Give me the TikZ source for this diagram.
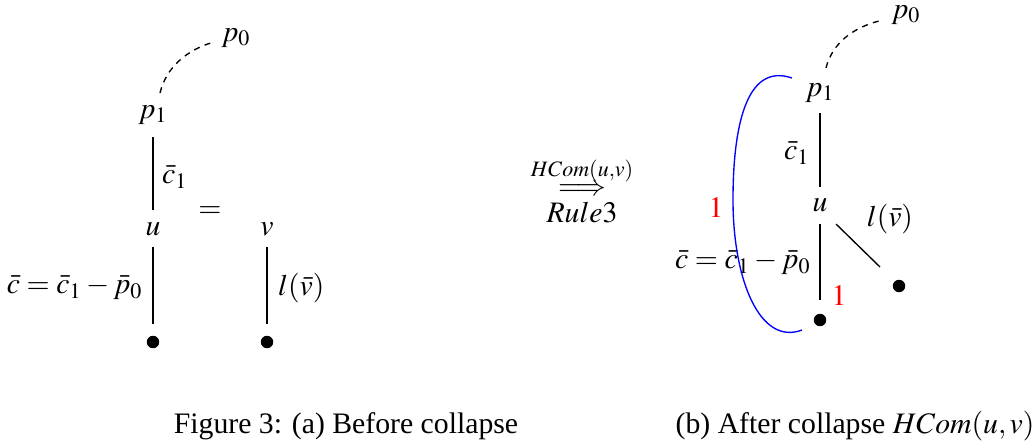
\documentclass[tikz,border=0pt]{standalone}
\usepackage{mathptmx}
\usepackage{fontspec}
\setmainfont{Liberation Serif}
\begin{document}
\begin{tikzpicture}[x=0.37pt,y=-0.37pt,font=\fontsize{11}{13}\selectfont,
  lbl/.style={inner sep=1pt},
  vtx/.style={inner sep=3pt},
  dotnode/.style={circle,fill=black,inner sep=0pt,minimum size=4.6pt},
  edge/.style={draw=black,line width=0.5pt},
  dsh/.style={dash pattern=on 2.2pt off 2pt,line width=0.5pt},
  red1/.style={text=red,inner sep=1pt}]
\useasboundingbox (0,0) rectangle (1032,447);
% ---------- left
\node[vtx] (Lp0) at (236,38) {$p_0$};
\node[vtx] (Lp1) at (153,115) {$p_1$};
\node[vtx] (Lu) at (153,229) {$u$};
\node[vtx] (Lv) at (267,229) {$v$};
\node[dotnode] (Ld1) at (153,342) {};
\node[dotnode] (Ld2) at (267,342) {};
\coordinate (Lds) at (160,93);
\coordinate (Lde) at (214,42);
\draw[dsh] (Lds) .. controls (166,68) and (186,50) .. (Lde);
\coordinate (La1) at (153,137);
\coordinate (La2) at (153,210);
\coordinate (La3) at (153,247);
\coordinate (La4) at (153,324);
\coordinate (Lb1) at (267,247);
\coordinate (Lb2) at (267,324);
\draw[edge] (La1) -- (La2);
\node[lbl] (Lc1) at (175,177) {$\bar{c}_1$};
\node[lbl] (Leq) at (210,212) {$=$};
\draw[edge] (La3) -- (La4);
\node[lbl,anchor=east] (Lc) at (146,288) {$\bar{c}=\bar{c}_1-\bar{p}_0$};
\draw[edge] (Lb1) -- (Lb2);
\node[lbl,anchor=west] (Ll) at (275,288) {$l(\bar{v})$};
% ---------- arrow
\node[lbl,align=center] (arr) at (582,190) {$\stackrel{HCom(u,v)}{\Longrightarrow}$\\[-3pt]$Rule3$};
% ---------- right
\node[vtx] (Rp0) at (906,15) {$p_0$};
\node[vtx] (Rp1) at (820,93) {$p_1$};
\node[vtx] (Ru) at (820,205) {$u$};
\node[dotnode] (Rd1) at (820,320) {};
\node[dotnode] (Rd2) at (899,286) {};
\coordinate (Rds) at (826,68);
\coordinate (Rde) at (879,21);
\draw[dsh] (Rds) .. controls (832,44) and (852,28) .. (Rde);
\coordinate (Ra1) at (820,113);
\coordinate (Ra2) at (820,187);
\coordinate (Ra3) at (820,224);
\coordinate (Ra4) at (820,300);
\coordinate (Rb1) at (836,224);
\coordinate (Rb2) at (880,267);
\draw[edge] (Ra1) -- (Ra2);
\node[lbl] (Rc1) at (797,153) {$\bar{c}_1$};
\draw[edge] (Ra3) -- (Ra4);
\draw[edge] (Rb1) -- (Rb2);
\node[lbl] (Rl) at (890,219) {$l(\bar{v})$};
\node[lbl] (Rc) at (743,263) {$\bar{c}=\bar{c}_1-\bar{p}_0$};
\node[red1] (R1a) at (716,208) {$1$};
\node[red1] (R1b) at (839,296) {$1$};
\draw[blue,line width=0.5pt] (792,78) .. controls (745,62) and (733,130) .. (733,200) .. controls (733,280) and (760,346) .. (802,330);
% ---------- captions
\node[lbl] (cap1) at (346,426) {Figure 3: (a) Before collapse};
\node[lbl] (cap2) at (855,426) {(b) After collapse $HCom(u,v)$};
\end{tikzpicture}
\end{document}
